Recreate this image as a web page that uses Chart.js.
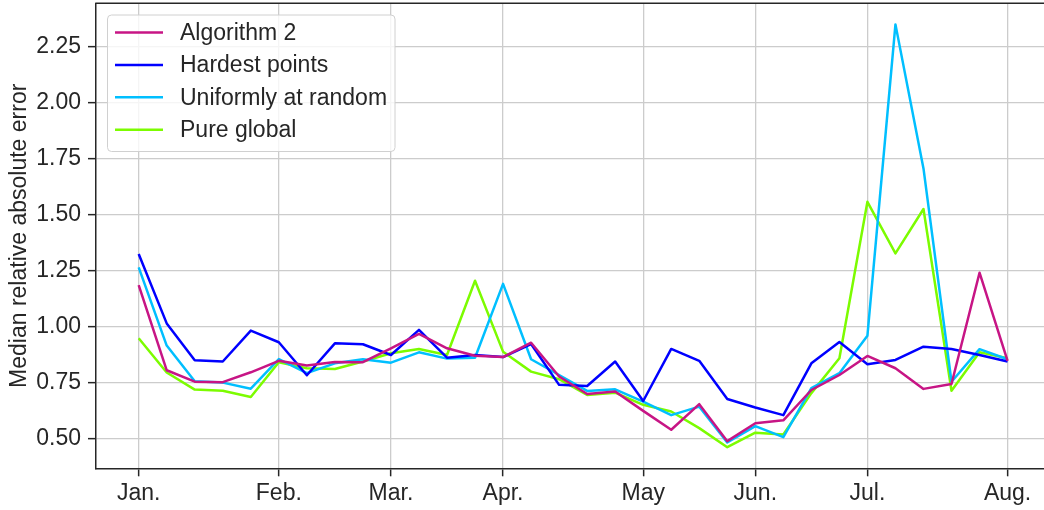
<!DOCTYPE html>
<html>
<head>
<meta charset="utf-8">
<script src="https://cdn.jsdelivr.net/npm/chart.js@4/dist/chart.umd.min.js"></script>
<style>
  html, body { margin: 0; padding: 0; background: #ffffff; overflow: hidden; }
  #wrap { width: 1044px; height: 510px; position: relative; }
  canvas { display: block; }
</style>
</head>
<body>
<div id="wrap"><canvas id="chart" width="1044" height="510"></canvas></div>
<script>
// Weekly median relative absolute error, January to August (32 weeks)
const seriesNames = ['Algorithm 2', 'Hardest points', 'Uniformly at random', 'Pure global'];
const seriesColors = ['#c71585', '#0000ff', '#00bfff', '#7cfc00'];

const algorithm2 = [1.186, 0.806, 0.755, 0.753, 0.797, 0.848, 0.827, 0.843, 0.842, 0.904,
  0.968, 0.904, 0.871, 0.865, 0.929, 0.778, 0.700, 0.711, 0.625, 0.541,
  0.655, 0.490, 0.570, 0.583, 0.718, 0.785, 0.870, 0.815, 0.723, 0.745,
  1.241, 0.848];
const hardestPoints = [1.324, 1.015, 0.851, 0.845, 0.983, 0.931, 0.784, 0.926, 0.922, 0.874,
  0.986, 0.862, 0.874, 0.865, 0.923, 0.741, 0.736, 0.845, 0.669, 0.901,
  0.848, 0.678, 0.640, 0.606, 0.837, 0.932, 0.833, 0.852, 0.911, 0.901,
  0.874, 0.845];
const uniformRandom = [1.265, 0.916, 0.757, 0.751, 0.724, 0.856, 0.793, 0.837, 0.855, 0.840,
  0.886, 0.858, 0.862, 1.191, 0.855, 0.785, 0.714, 0.721, 0.666, 0.606,
  0.644, 0.484, 0.557, 0.508, 0.726, 0.793, 0.960, 2.348, 1.706, 0.755,
  0.900, 0.855];
const pureGlobal = [0.949, 0.796, 0.720, 0.715, 0.687, 0.842, 0.815, 0.812, 0.845, 0.882,
  0.901, 0.874, 1.205, 0.889, 0.800, 0.766, 0.696, 0.706, 0.652, 0.622,
  0.548, 0.463, 0.528, 0.520, 0.704, 0.860, 1.557, 1.327, 1.525, 0.715,
  0.886, 0.860];

// Month labels and the week index where each month starts
const monthLabels = ['Jan.', 'Feb.', 'Mar.', 'Apr.', 'May', 'Jun.', 'Jul.', 'Aug.'];
const monthWeek = [0, 5, 9, 13, 18, 22, 26, 31];
const yTickValues = [0.50, 0.75, 1.00, 1.25, 1.50, 1.75, 2.00, 2.25];

const FONT = '"Liberation Sans", Arial, Helvetica, sans-serif';
const FONT_SIZE = 23;
const TEXT = '#262626';
const SPINE = '#262626';
const GRID = '#cccccc';
const PAD_LEFT = 6;

const allSeries = [algorithm2, hardestPoints, uniformRandom, pureGlobal];
const datasets = allSeries.map((vals, k) => ({
  label: seriesNames[k],
  data: vals.map((v, i) => ({ x: i, y: v })),
  borderColor: seriesColors[k],
  backgroundColor: seriesColors[k],
  borderWidth: 2.5,
  pointRadius: 0,
  pointHoverRadius: 0,
  tension: 0,
  borderJoinStyle: 'round',
  fill: false
}));

// Framed legend in the upper-left corner plus the top spine of the axes box
const framePlugin = {
  id: 'frame',
  afterDraw(chart) {
    const ctx = chart.ctx;
    const area = chart.chartArea;
    ctx.save();
    // top spine
    ctx.strokeStyle = SPINE;
    ctx.lineWidth = 1.5;
    ctx.beginPath();
    ctx.moveTo(area.left - 0.75, area.top);
    ctx.lineTo(area.right, area.top);
    ctx.stroke();

    // legend box
    const bx = 107.5, by = 15, bw = 287.5, bh = 136.5, r = 4;
    ctx.beginPath();
    ctx.moveTo(bx + r, by);
    ctx.lineTo(bx + bw - r, by);
    ctx.quadraticCurveTo(bx + bw, by, bx + bw, by + r);
    ctx.lineTo(bx + bw, by + bh - r);
    ctx.quadraticCurveTo(bx + bw, by + bh, bx + bw - r, by + bh);
    ctx.lineTo(bx + r, by + bh);
    ctx.quadraticCurveTo(bx, by + bh, bx, by + bh - r);
    ctx.lineTo(bx, by + r);
    ctx.quadraticCurveTo(bx, by, bx + r, by);
    ctx.closePath();
    ctx.fillStyle = 'rgba(255,255,255,0.8)';
    ctx.fill();
    ctx.strokeStyle = '#d0d0d0';
    ctx.lineWidth = 1;
    ctx.stroke();

    ctx.font = FONT_SIZE + 'px ' + FONT;
    ctx.textBaseline = 'middle';
    ctx.textAlign = 'left';
    chart.data.datasets.forEach((ds, i) => {
      const y = 32.5 + i * 32.4;
      ctx.strokeStyle = ds.borderColor;
      ctx.lineWidth = 2.5;
      ctx.beginPath();
      ctx.moveTo(115, y);
      ctx.lineTo(163, y);
      ctx.stroke();
      ctx.fillStyle = TEXT;
      ctx.fillText(ds.label, 180, y + 1);
    });
    ctx.restore();
  }
};

new Chart(document.getElementById('chart'), {
  type: 'line',
  data: { datasets },
  plugins: [framePlugin],
  options: {
    responsive: false,
    animation: false,
    devicePixelRatio: 1,
    layout: { padding: { top: 3.3, left: PAD_LEFT, right: 0, bottom: 0 } },
    plugins: {
      legend: { display: false },
      tooltip: { enabled: false }
    },
    scales: {
      x: {
        type: 'linear',
        min: -1.523,
        max: 32.30,
        afterBuildTicks(scale) {
          scale.ticks = monthWeek.map(v => ({ value: v }));
        },
        afterFit(scale) {
          scale.height = 41.7;
          scale.paddingLeft = 0;
          scale.paddingRight = 0;
        },
        ticks: {
          autoSkip: false,
          maxRotation: 0,
          padding: 4,
          color: TEXT,
          font: { family: FONT, size: FONT_SIZE },
          callback(value) {
            const k = monthWeek.indexOf(value);
            return k >= 0 ? monthLabels[k] : '';
          }
        },
        grid: {
          color: GRID,
          lineWidth: 1.3,
          drawTicks: true,
          tickLength: 8,
          tickColor: SPINE,
          tickWidth: 1.5
        },
        border: { display: true, color: SPINE, width: 1.5 }
      },
      y: {
        type: 'linear',
        min: 0.369,
        max: 2.442,
        afterBuildTicks(scale) {
          scale.ticks = yTickValues.map(v => ({ value: v }));
        },
        afterFit(scale) {
          scale.width = 96 - PAD_LEFT;
          scale.paddingTop = 0;
          scale.paddingBottom = 0;
        },
        ticks: {
          padding: 7,
          color: TEXT,
          font: { family: FONT, size: FONT_SIZE },
          callback(value) { return Number(value).toFixed(2); }
        },
        grid: {
          color: GRID,
          lineWidth: 1.3,
          drawTicks: true,
          tickLength: 8,
          tickColor: SPINE,
          tickWidth: 1.5
        },
        border: { display: true, color: SPINE, width: 1.5 },
        title: {
          display: true,
          text: 'Median relative absolute error',
          color: TEXT,
          font: { family: FONT, size: FONT_SIZE },
          padding: { top: 0, bottom: 0 }
        }
      }
    }
  }
});
</script>
</body>
</html>
